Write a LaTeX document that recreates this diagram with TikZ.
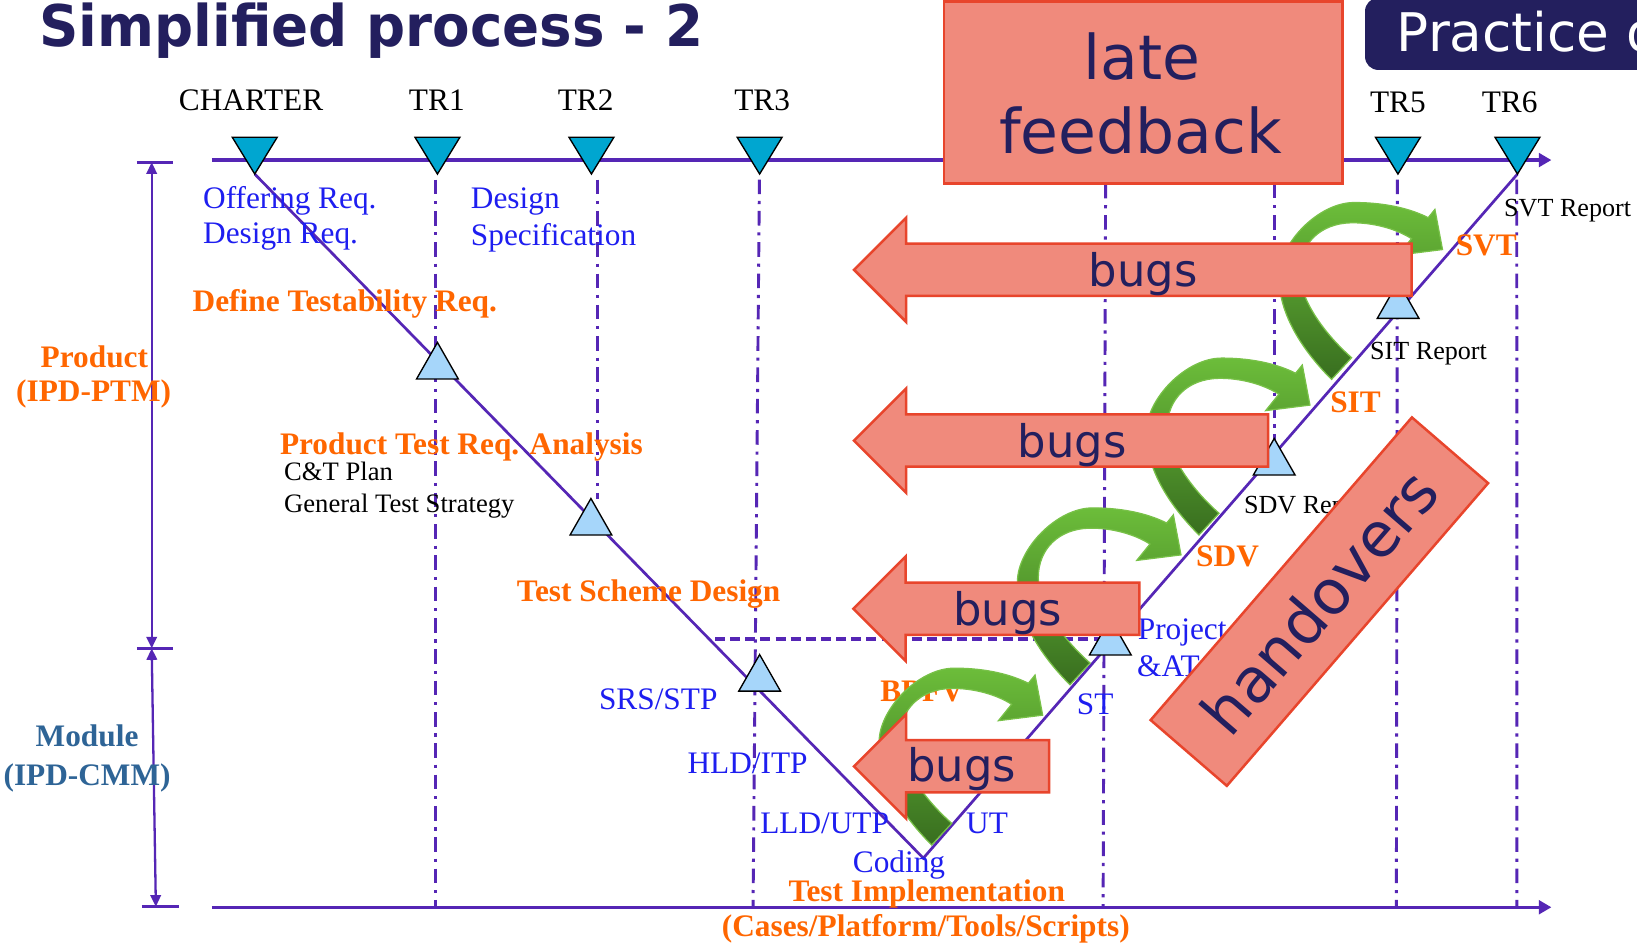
\documentclass[tikz,border=0pt]{standalone}
\usepackage{fontspec}
\setmainfont{Liberation Serif}
\newfontfamily\dejavu{DejaVu Sans}
\usetikzlibrary{arrows.meta}

\definecolor{navy}{HTML}{231F5E}
\definecolor{vline}{HTML}{5526B5}
\definecolor{salmon}{HTML}{F08A7C}
\definecolor{redline}{HTML}{E8452C}
\definecolor{orng}{HTML}{FF6600}
\definecolor{lblue}{HTML}{1E1EF0}
\definecolor{steel}{HTML}{2E6496}
\definecolor{milecyan}{HTML}{00A6D0}
\definecolor{skyfill}{HTML}{A6D6FA}
\definecolor{glight}{HTML}{6CBD3A}
\definecolor{gdark}{HTML}{386E1F}
\definecolor{gedge}{HTML}{78C148}

\tikzset{
  axis/.style={vline, line width=3.2pt, -{Triangle[length=12pt,width=13pt]}},
  vee/.style={vline, line width=2.6pt},
  gate/.style={vline, line width=2.8pt, dash pattern=on 14pt off 6.5pt on 3pt off 6.5pt},
  boundary/.style={vline, line width=3pt, dash pattern=on 9.5pt off 5pt},
  span/.style={vline, line width=2.2pt, {Triangle[length=11pt,width=10pt]}-{Triangle[length=11pt,width=10pt]}},
  tickmark/.style={vline, line width=3pt},
  milestone/.style={fill=milecyan, draw=black, line width=1.3pt},
  review/.style={fill=skyfill, draw=black, line width=1.3pt},
  txt/.style={inner sep=0pt, anchor=base west, font=\fontsize{30}{36}\selectfont},
  blu/.style={txt, text=lblue},
  org/.style={txt, text=orng, font=\fontsize{30}{36}\selectfont\bfseries},
  blk/.style={txt, text=black},
  note/.style={txt, text=black, font=\fontsize{25}{30}\selectfont},
  callout/.style={fill=salmon, draw=redline, line width=2.4pt},
  calltext/.style={inner sep=0pt, anchor=base, text=navy, font=\dejavu\fontsize{43}{50}\selectfont},
  bigtext/.style={inner sep=0pt, anchor=base, text=navy, font=\dejavu\fontsize{59}{70}\selectfont},
  pics/gatepoint/.style={code={\path[milestone] (-21.5,0) -- (21.5,0) -- (0,35.2) -- cycle;}},
  pics/checkpoint/.style={code={\path[review] (-20,0) -- (20,0) -- (0,-35) -- cycle;}},
  pics/bugsarrow/.style={code={\path[callout] (0,0) -- (50,-50) -- (50,-25) -- (#1,-25) -- (#1,25) -- (50,25) -- (50,50) -- cycle;}},
  pics/handoff/.style={code={
    \path[draw=gedge, line width=1.2pt, top color=glight, bottom color=gdark]
      (-9.6,10.4) .. controls (-35,-15) and (-60,-50) .. (-60,-88)
      .. controls (-60,-120) and (-22,-159) .. (12,-159)
      .. controls (45,-159) and (68,-152) .. (83,-144.5)
      -- (89.4,-152.4) -- (96.7,-114) -- (54.3,-108.7) -- (67,-124.4)
      .. controls (52,-134) and (30,-140) .. (9,-139.6)
      .. controls (-20,-139) and (-40,-120) .. (-40,-92)
      .. controls (-40,-65) and (-15,-32) .. (9.6,-10.4) -- cycle;}}
}

\begin{document}
\begin{tikzpicture}[x=1pt,y=-1pt]
\clip (0,0) rectangle (1568,908);
\fill[white] (0,0) rectangle (1568,908);

% time axes
\coordinate (topStart) at (203,153.3);
\coordinate (topEnd) at (1486,153.3);
\coordinate (botStart) at (203,869);
\coordinate (botEnd) at (1486,869);
\draw[axis] (topStart) -- (topEnd);
\draw[axis] (botStart) -- (botEnd);

% level spans on the left
\coordinate (spanTop) at (145.3,155.5);
\coordinate (spanMid) at (145.3,621);
\coordinate (spanMidB) at (145.3,621);
\coordinate (spanBot) at (149.3,868.4);
\draw[tickmark] (131,155.5) -- (166,155.5);
\draw[tickmark] (131,621) -- (166,621);
\draw[tickmark] (136,868.4) -- (171.5,868.4);
\draw[span] (spanTop) -- (spanMid);
\draw[span] (spanMidB) -- (spanBot);

% review columns
\draw[gate] (417.3,172) -- (417.3,869);
\draw[gate] (572.6,172) -- (572.6,478);
\draw[gate] (727.4,172) -- (721.3,869);
\draw[gate] (1059,176) -- (1056.6,869);
\draw[gate] (1220.7,176) -- (1220.7,421);
\draw[gate] (1338.5,172) -- (1337.5,869);
\draw[gate] (1452.8,172) -- (1453,869);
\draw[boundary] (684.9,612) -- (1055,612);

% the V
\coordinate (vTop) at (244,166.7);
\coordinate (vBottom) at (884.4,822);
\coordinate (vEnd) at (1453.5,166.7);
\draw[vee] (vTop) -- (vBottom) -- (vEnd);

% checkpoints on the V
\pic at (419,363) {checkpoint};
\pic at (566,512.5) {checkpoint};
\pic at (727.6,662) {checkpoint};
\pic at (1063.5,627.4) {checkpoint};
\pic at (1220.5,455) {checkpoint};
\pic at (1339.2,305) {checkpoint};

% milestones
\foreach \cx in {244,419,566.5,727.6,1339,1453.5}
  \pic at (\cx,131.5) {gatepoint};

% milestone names
\node[blk, anchor=base] (charter) at (240.5,106.3) {CHARTER};
\node[blk, anchor=base] (tr1) at (418.4,106.3) {TR1};
\node[blk, anchor=base] (tr2) at (561,106.3) {TR2};
\node[blk, anchor=base] (tr3) at (730,106.3) {TR3};
\node[blk, anchor=base] (tr5) at (1339,108) {TR5};
\node[blk, anchor=base] (tr6) at (1446,108) {TR6};

% levels
\node[org, anchor=base] (prod1) at (90.4,352.2) {Product};
\node[org, anchor=base] (prod2) at (89.7,384.7) {(IPD-PTM)};
\node[org, anchor=base, text=steel] (mod1) at (83.4,715.2) {Module};
\node[org, anchor=base, text=steel] (mod2) at (83.4,752) {(IPD-CMM)};

% development artefacts
\node[blu] (offering) at (194.4,199.6) {Offering Req.};
\node[blu] (designReq) at (194.4,233) {Design Req.};
\node[blu] (design) at (450.9,200) {Design};
\node[blu] (spec) at (450.9,234.7) {Specification};
\node[blu] (srs) at (573.6,680) {SRS/STP};
\node[blu] (hld) at (658.4,740.7) {HLD/ITP};
\node[blu] (lld) at (728,798.2) {LLD/UTP};
\node[blu] (ut) at (925.3,798.2) {UT};
\node[blu] (coding) at (816.7,835.9) {Coding};
\node[blu] (st) at (1031.3,683.9) {ST};
\node[blu] (project) at (1089.7,613) {Project};
\node[blu] (atest) at (1089,648.2) {\&AT};

% test activities
\node[org] (defTest) at (184.4,298.5) {Define Testability Req.};
\node[org] (ptra) at (268,434.9) {Product Test Req. Analysis};
\node[org] (tsd) at (495,576.3) {Test Scheme Design};
\node[org] (bbfv) at (843,672) {BBFV};
\node[org] (timpl) at (755.1,863.7) {Test Implementation};
\node[org] (cases) at (691.3,897.2) {(Cases/Platform/Tools/Scripts)};
\node[org] (svt) at (1394.2,245.2) {SVT};
\node[org] (sit) at (1274,395.3) {SIT};
\node[org] (sdv) at (1145.6,542.8) {SDV};

% deliverables
\node[note, font=\fontsize{25.5}{30}\selectfont] (ctplan) at (272,459.8) {C\&T Plan};
\node[note, font=\fontsize{25.5}{30}\selectfont] (gts) at (272,490.8) {General Test Strategy};
\node[note] (svtrep) at (1440.6,206.9) {SVT Report};
\node[note] (sitrep) at (1312.2,344.8) {SIT Report};
\node[note] (sdvrep) at (1191.4,491.7) {SDV Report};

% handovers between test stages
\pic at (902,799) {handoff};
\pic at (1034.5,645.5) {handoff};
\pic at (1158,502) {handoff};
\pic at (1285,353) {handoff};

% bugs flowing back
\pic at (818,258.4) {bugsarrow=534};
\pic at (818,422) {bugsarrow=396.6};
\pic at (817.4,583) {bugsarrow=274};
\pic at (818,734) {bugsarrow=187};
\node[calltext] (bugsA) at (1095,274.6) {bugs};
\node[calltext] (bugsB) at (1027,438) {bugs};
\node[calltext] (bugsC) at (965,598.7) {bugs};
\node[calltext] (bugsD) at (921,749) {bugs};

% late feedback
\draw[callout] (904.2,1.6) rectangle (1286.1,175.6);
\node[bigtext] (late) at (1093.7,76.6) {late};
\node[bigtext] (feedback) at (1092.4,146.9) {feedback};

% handovers
\node[callout, rotate=49.2, minimum width=383pt, minimum height=96.4pt, inner sep=0pt,
      text=navy, font=\dejavu\fontsize{59}{70}\selectfont] (handovers) at (1263.75,576.25) {handovers};

% title and tag
\node[inner sep=0pt, anchor=base west, text=navy, font=\dejavu\bfseries\fontsize{55}{66}\selectfont] (title) at (37.5,44.7) {\scalebox{0.952}[1]{Simplified process - 2}};
\fill[navy, rounded corners=12.7pt] (1307.5,-2) rectangle (1660,67);
\node[inner sep=0pt, anchor=base west, text=white, font=\dejavu\fontsize{51}{60}\selectfont] (practice) at (1337.8,49.5) {Practice o};
\end{tikzpicture}
\end{document}
